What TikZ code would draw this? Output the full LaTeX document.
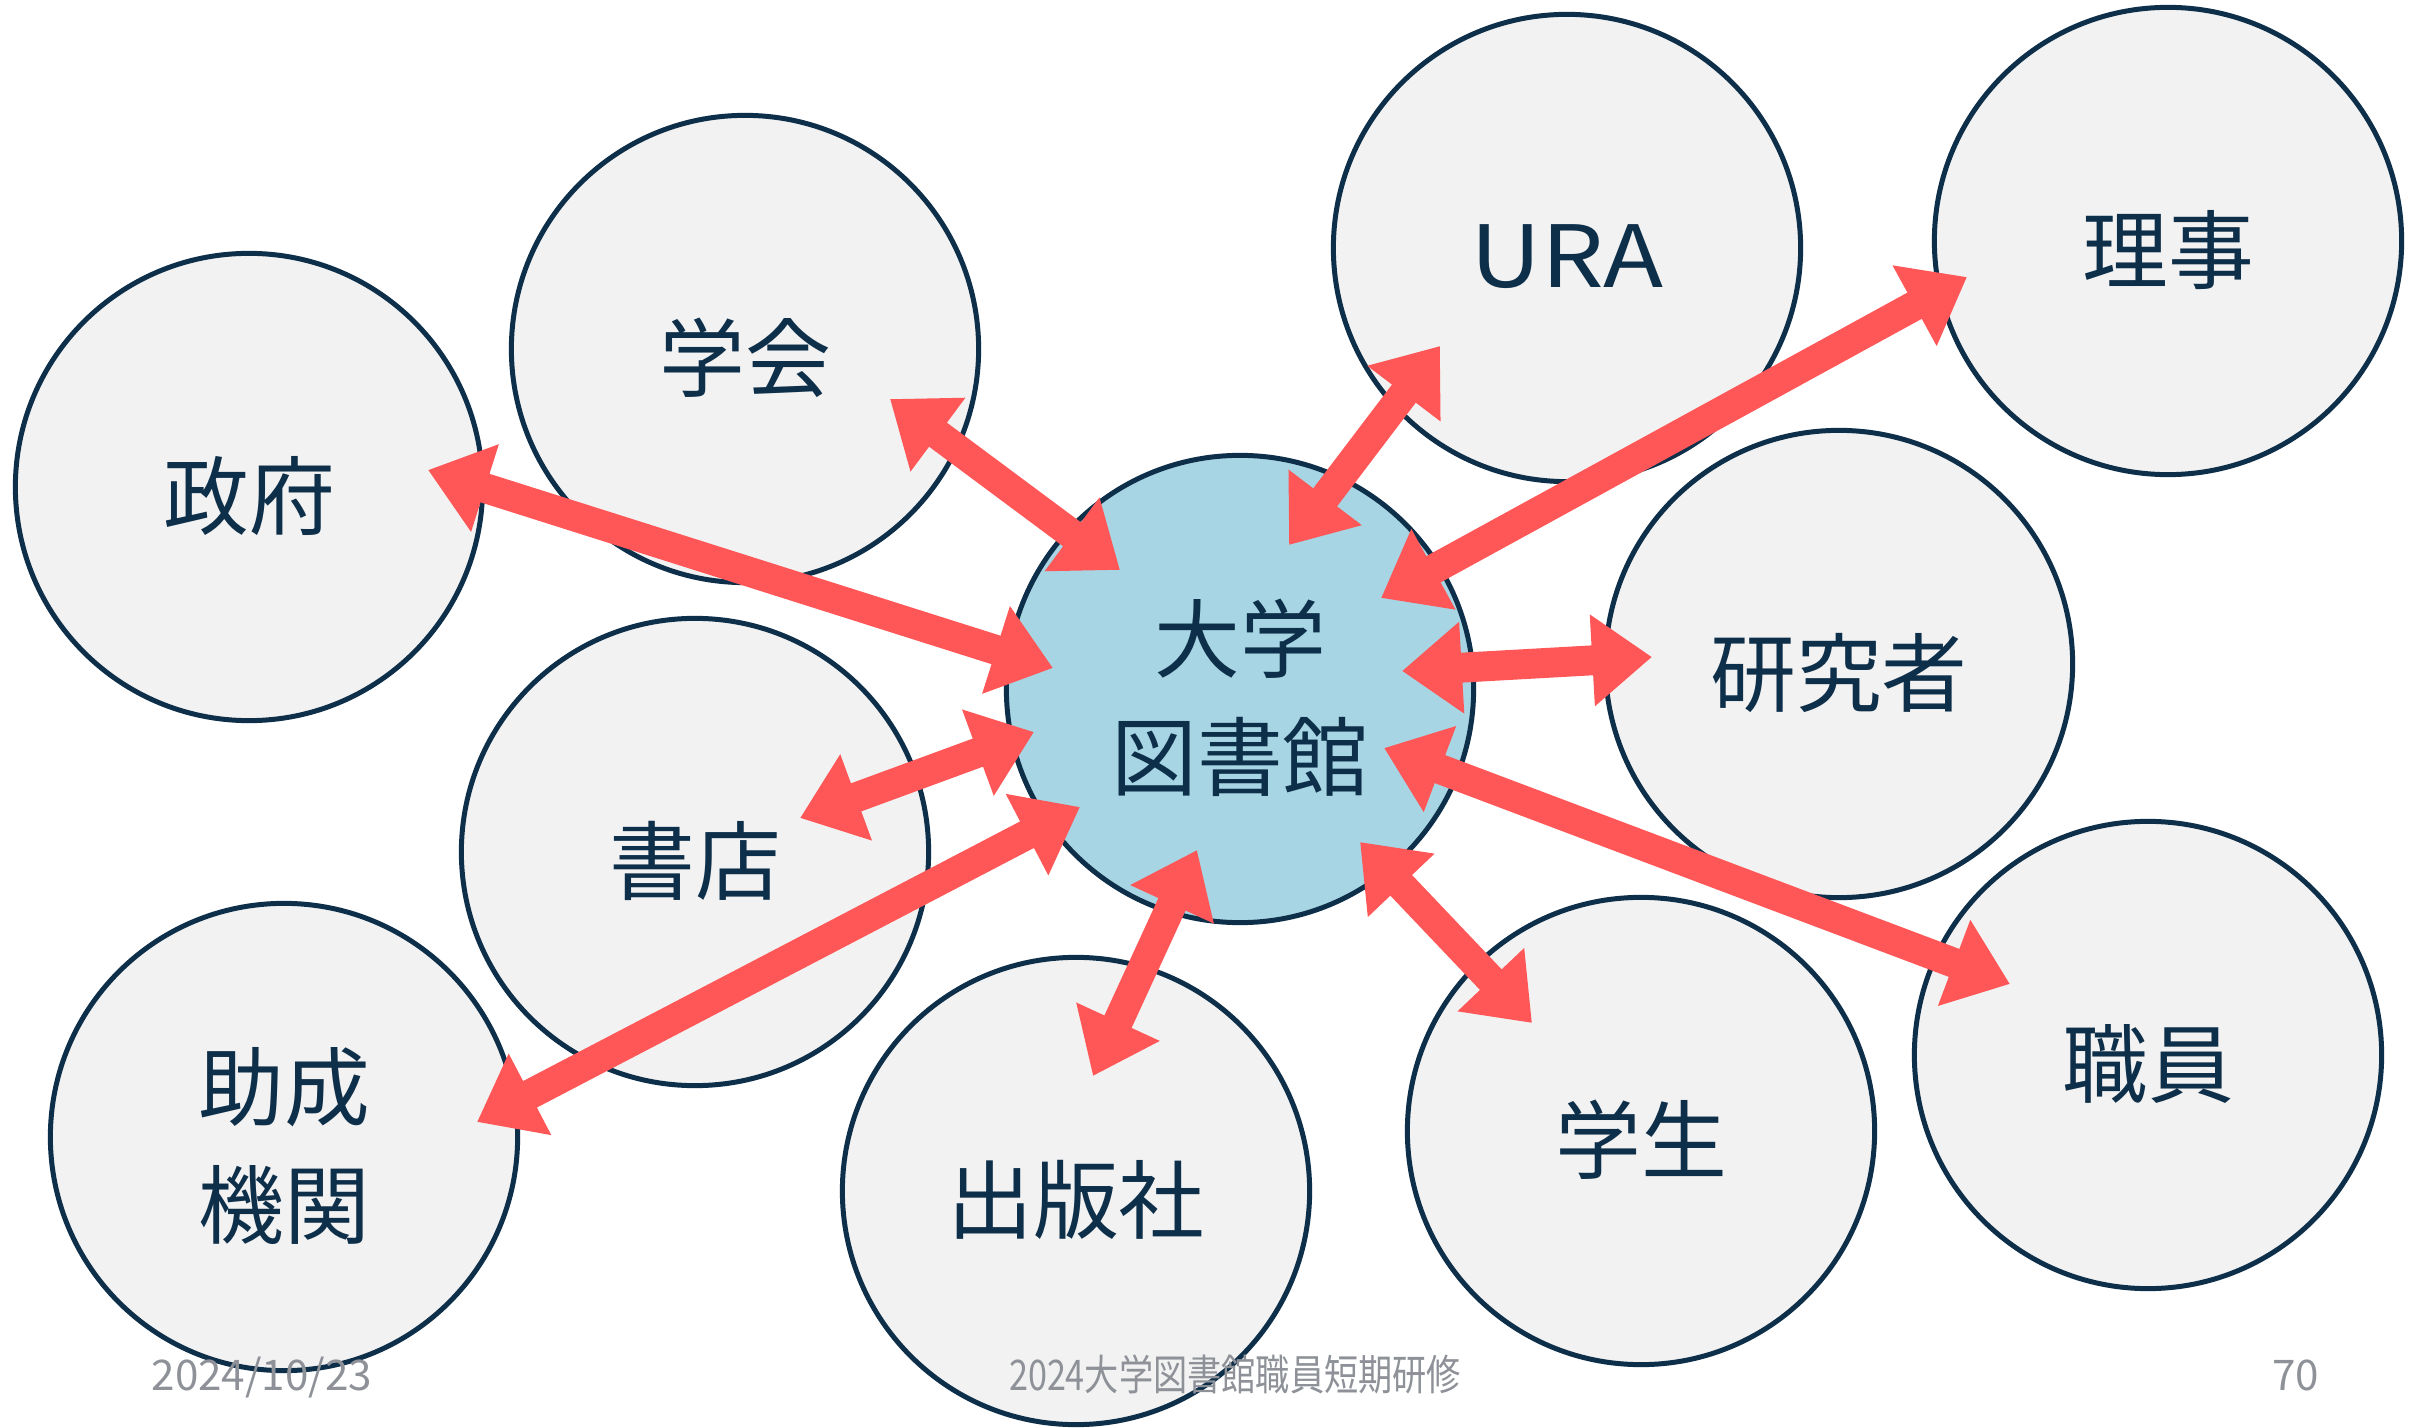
\documentclass[tikz,border=0pt]{standalone}
\usepackage{fontspec}
\newfontfamily\cjk{Noto Sans CJK JP}
\newfontfamily\cjknarrow[FakeStretch=0.81]{Noto Sans CJK JP}
\newfontfamily\latinwide[FakeStretch=1.15]{Noto Sans CJK JP}
\usetikzlibrary{arrows.meta}
\definecolor{navy}{HTML}{0E2F4A}
\definecolor{pale}{HTML}{F2F2F2}
\definecolor{libblue}{HTML}{A7D5E3}
\definecolor{arrowred}{HTML}{FF5757}
\definecolor{footgray}{HTML}{8E9298}
\newcommand{\lowr}[1]{\raisebox{-0.09cm}[\height][\depth]{#1}}
\begin{document}
\begin{tikzpicture}[x=0.01cm,y=-0.01cm,
  party/.style={circle, draw=navy, line width=1.42pt, fill=pale, minimum size=4.67cm,
    inner sep=0pt, text=navy, font=\cjk\fontsize{24.4}{33.5}\selectfont, align=center},
  hub/.style={party, fill=libblue},
  link/.style={draw=arrowred, line width=8.5pt, >={Triangle[width=25pt,length=17pt]}, <->},
  foottext/.style={text=footgray, font=\cjk\fontsize{12}{14}\selectfont, inner sep=0pt}]
\fill[white] (0,0) rectangle (2433,1428);
\useasboundingbox (0,0) rectangle (2433,1428);

% circles
\node[party] (seifu)   at (249,487)   {\lowr{政府}};
\node[party] (gakkai)  at (745,349)   {\lowr{学会}};
\node[party] (ura)     at (1567,248)  {\lowr{\latinwide URA}};
\node[party] (riji)    at (2168,241)  {\lowr{理事}};
\node[party] (kenkyu)  at (1839,664)  {\lowr{研究者}};
\node[party] (shoten)  at (695,852)   {\lowr{書店}};
\node[party] (josei)   at (284,1137)  {\lowr{助成}\\\lowr{機関}};
\node[party] (shuppan) at (1076,1191) {\lowr{出版社}};
\node[party] (gakusei) at (1641,1131) {\lowr{学生}};
\node[party] (shokuin) at (2148,1055) {\lowr{職員}};
\node[hub]   (lib)     at (1240,689)  {\lowr{大学}\\\lowr{図書館}};

% footer
\node[foottext, anchor=base west] (date)  at (151,1390)  {2024/10/23};
\node[foottext, anchor=base, font=\cjknarrow\fontsize{12}{14}\selectfont] (title) at (1235,1390) {2024大学図書館職員短期研修};
\node[foottext, anchor=base east] (page)  at (2320,1390) {70};

% arrow end points
\coordinate (seifuE)   at (428,470);   \coordinate (libSeifu)   at (1053,668);
\coordinate (gakkaiE)  at (890,399);   \coordinate (libGakkai)  at (1120,570);
\coordinate (uraE)     at (1440,346);  \coordinate (libUra)     at (1289,545);
\coordinate (rijiE)    at (1967,277);  \coordinate (libRiji)    at (1381,598);
\coordinate (kenkyuE)  at (1652,657);  \coordinate (libKenkyu)  at (1402,671);
\coordinate (shotenE)  at (800,818);   \coordinate (libShoten)  at (1034,732);
\coordinate (joseiE)   at (477,1122);  \coordinate (libJosei)   at (1080,807);
\coordinate (shuppanE) at (1093,1076); \coordinate (libShuppan) at (1197,850);
\coordinate (gakuseiE) at (1532,1023); \coordinate (libGakusei) at (1360,842);
\coordinate (shokuinE) at (2010,984);  \coordinate (libShokuin) at (1384,748);

% connectors
\draw[link] (seifuE)   -- (libSeifu);
\draw[link] (gakkaiE)  -- (libGakkai);
\draw[link] (uraE)     -- (libUra);
\draw[link] (rijiE)    -- (libRiji);
\draw[link] (kenkyuE)  -- (libKenkyu);
\draw[link] (shotenE)  -- (libShoten);
\draw[link] (joseiE)   -- (libJosei);
\draw[link] (shuppanE) -- (libShuppan);
\draw[link] (gakuseiE) -- (libGakusei);
\draw[link] (shokuinE) -- (libShokuin);
\end{tikzpicture}
\end{document}
